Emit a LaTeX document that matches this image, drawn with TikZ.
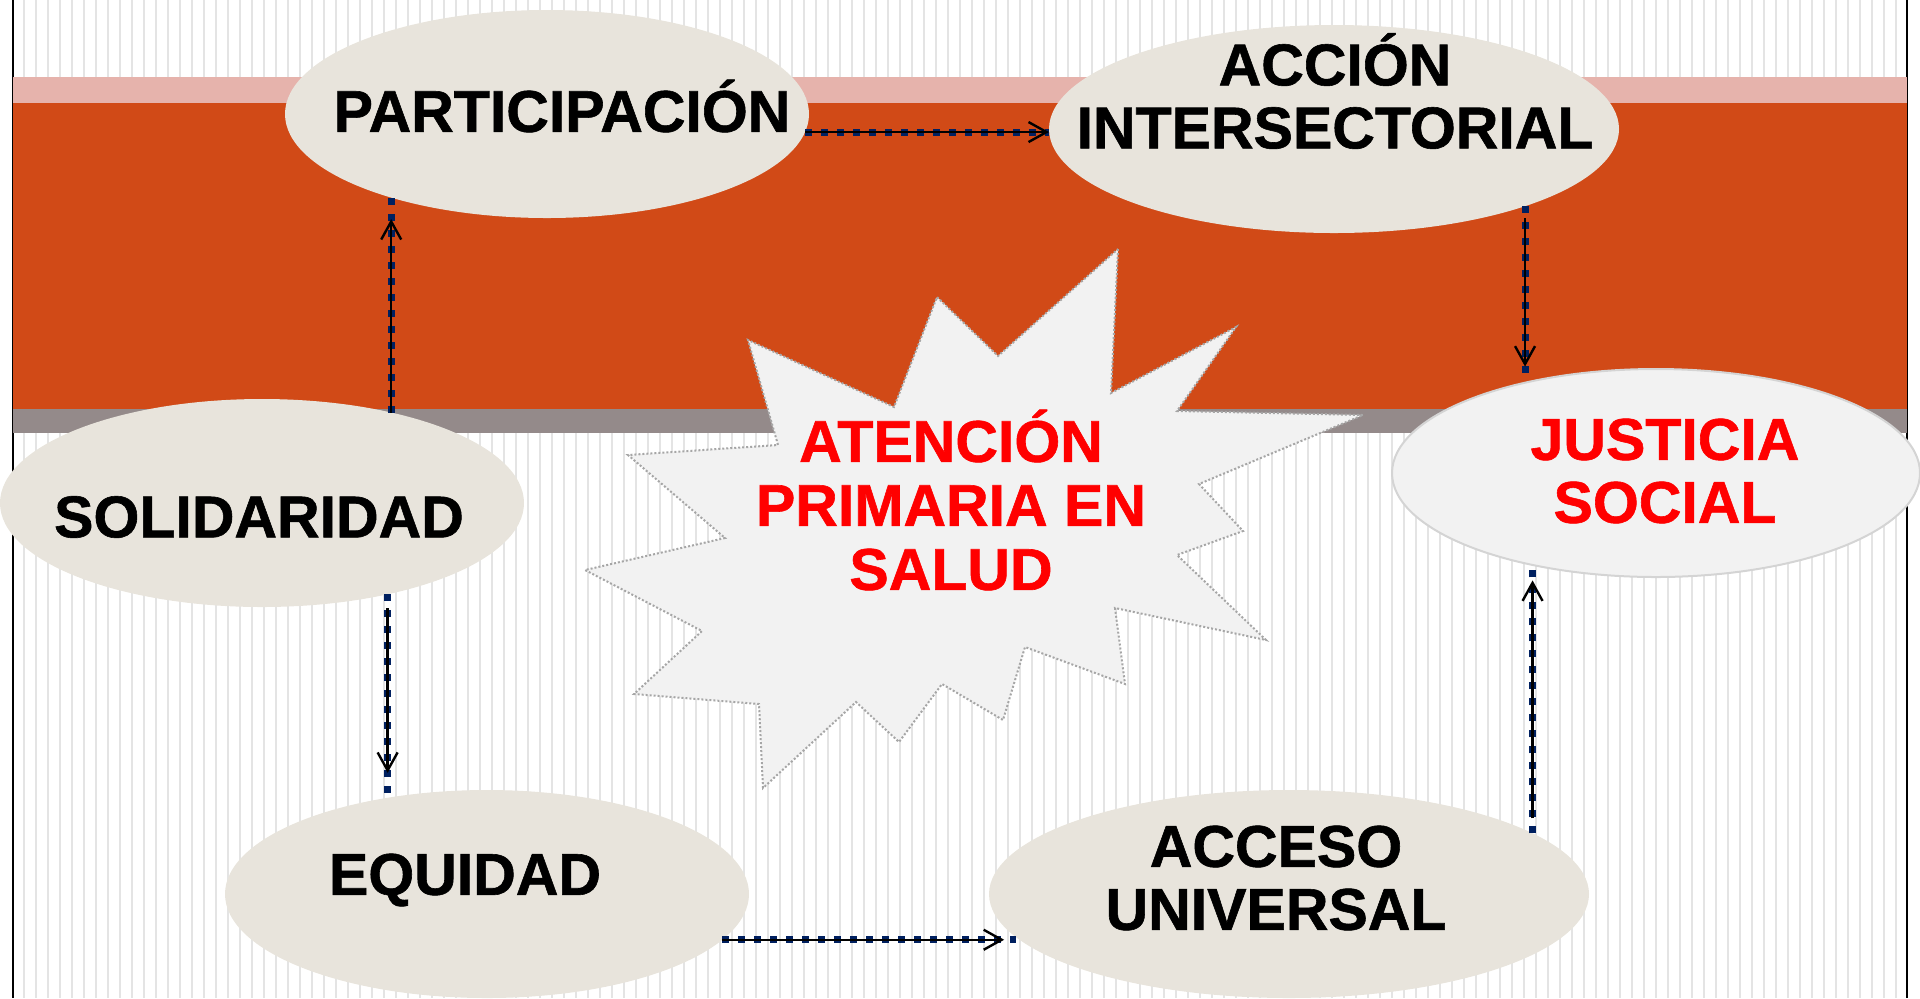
\documentclass[tikz,border=0pt]{standalone}
\usepackage{fontspec}
\setmainfont{Liberation Sans}[BoldFeatures={FakeBold=1}]
\usetikzlibrary{shapes.geometric,arrows.meta}
\definecolor{crema}{HTML}{E8E4DC}
\definecolor{grisclaro}{HTML}{F2F2F2}
\definecolor{grisborde}{HTML}{D4D4D4}
\definecolor{grisestrella}{HTML}{A6A6A6}
\definecolor{rayas}{HTML}{E4E4E4}
\definecolor{rosa}{HTML}{E6B3AC}
\definecolor{naranja}{HTML}{D14A17}
\definecolor{gris}{HTML}{948A8A}
\definecolor{azul}{HTML}{002060}
\definecolor{rojo}{HTML}{FF0000}

\begin{document}
\begin{tikzpicture}[x=0.5pt,y=-0.5pt]
      \tikzstyle{elipse}=[ellipse, fill=crema, inner sep=0pt, outer sep=0pt, minimum width=262pt, minimum height=104pt]
      \tikzstyle{elipseclara}=[elipse, fill=grisclaro, draw=grisborde, line width=1pt]
      \tikzstyle{texto}=[font=\fontsize{29.5}{31.5}\selectfont\bfseries, align=center]
      \tikzstyle{trazo}=[draw=azul, line width=3.5pt, dash pattern=on 3.5pt off 4.5pt]
      \tikzstyle{flecha}=[-{Straight Barb[length=9pt,width=10pt]}, line width=1.2pt]

      \useasboundingbox (0,0) rectangle (1920,998);
      \foreach \i in {0,...,156}
        \draw[rayas, line width=0.75pt] (24+12*\i,0) -- (24+12*\i,998);
      \draw[line width=1pt] (13,0) -- (13,998);
      \draw[line width=1pt] (1907,0) -- (1907,998);
      \fill[rosa] (13,77) rectangle (1907,103);
      \fill[naranja] (13,103) rectangle (1907,409);
      \fill[gris] (13,409) rectangle (1907,433);

      \filldraw[fill=grisclaro, draw=grisestrella, line width=1pt, dash pattern=on 1pt off 1pt]
        (1118,249) -- (1111,393) -- (1236,327) -- (1177,411) -- (1363,415) -- (1199,484) -- (1243,531)
        -- (1177,555) -- (1266,640) -- (1115,608) -- (1125,684) -- (1025,647) -- (1003,720) -- (942,684)
        -- (899,742) -- (856,702) -- (763,788) -- (759,704) -- (634,694) -- (702,631) -- (585,570)
        -- (725,538) -- (628,455) -- (778,445) -- (748,340) -- (894,407) -- (937,297) -- (998,356) -- cycle;
      \node[texto, text=rojo, font=\fontsize{29.5}{32}\selectfont\bfseries] (APS) at (951,500) {ATENCIÓN\\PRIMARIA EN\\SALUD};

      \node[elipse, label={[texto, shift={(15,-8)}]center:PARTICIPACIÓN}] (Part) at (547,114) {};
      \node[elipse, minimum width=285pt, label={[texto, shift={(1,-38)}]center:{ACCIÓN\\INTERSECTORIAL}}] (Acc) at (1334,129) {};
      \node[elipse, label={[texto, shift={(-3,14)}]center:SOLIDARIDAD}] (Sol) at (262,503) {};
      \node[elipse, label={[texto, shift={(-22,-14)}]center:EQUIDAD}] (Equ) at (487,894) {};
      \node[elipse, minimum width=300pt, label={[texto, shift={(-13,-16)}]center:{ACCESO\\UNIVERSAL}}] (Acs) at (1289,894) {};
      \node[elipseclara, minimum width=264pt, label={[texto, text=rojo, shift={(9,-2)}]center:{JUSTICIA\\SOCIAL}}] (Jus) at (1656,473) {};

      \draw[trazo] (Part.356.7) -- (Part.356.7 -| Acc.west);
      \draw[flecha] (Part.356.7) -- (Part.356.7 -| Acc.west);
      \draw[trazo] (Sol.35.4) -- (Sol.35.4 |- Part.207.9);
      \draw[flecha, shorten >=11.5pt] (Sol.35.4) -- (Sol.35.4 |- Part.207.9);
      \draw[trazo] (Sol.324.6) -- (Sol.324.6 |- Equ.134.9);
      \draw[flecha, shorten <=7pt, shorten >=12pt] (Sol.324.6) -- (Sol.324.6 |- Equ.134.9);
      \draw[trazo] (Equ.349.5) -- (Equ.349.5 -| Acs.189.2);
      \draw[flecha, shorten >=6pt] (Equ.349.5) -- (Equ.349.5 -| Acs.189.2);
      \draw[trazo] (Acs.14.4) -- (Acs.14.4 |- Jus.216);
      \draw[flecha, shorten <=7.5pt, shorten >=8pt] (Acs.14.4) -- (Acs.14.4 |- Jus.216);
      \draw[trazo] (Acc.338.9) -- (Acc.338.9 |- Jus.144);
      \draw[flecha, shorten <=6pt, shorten >=7.5pt] (Acc.338.9) -- (Acc.338.9 |- Jus.144);

\end{tikzpicture}
\end{document}
